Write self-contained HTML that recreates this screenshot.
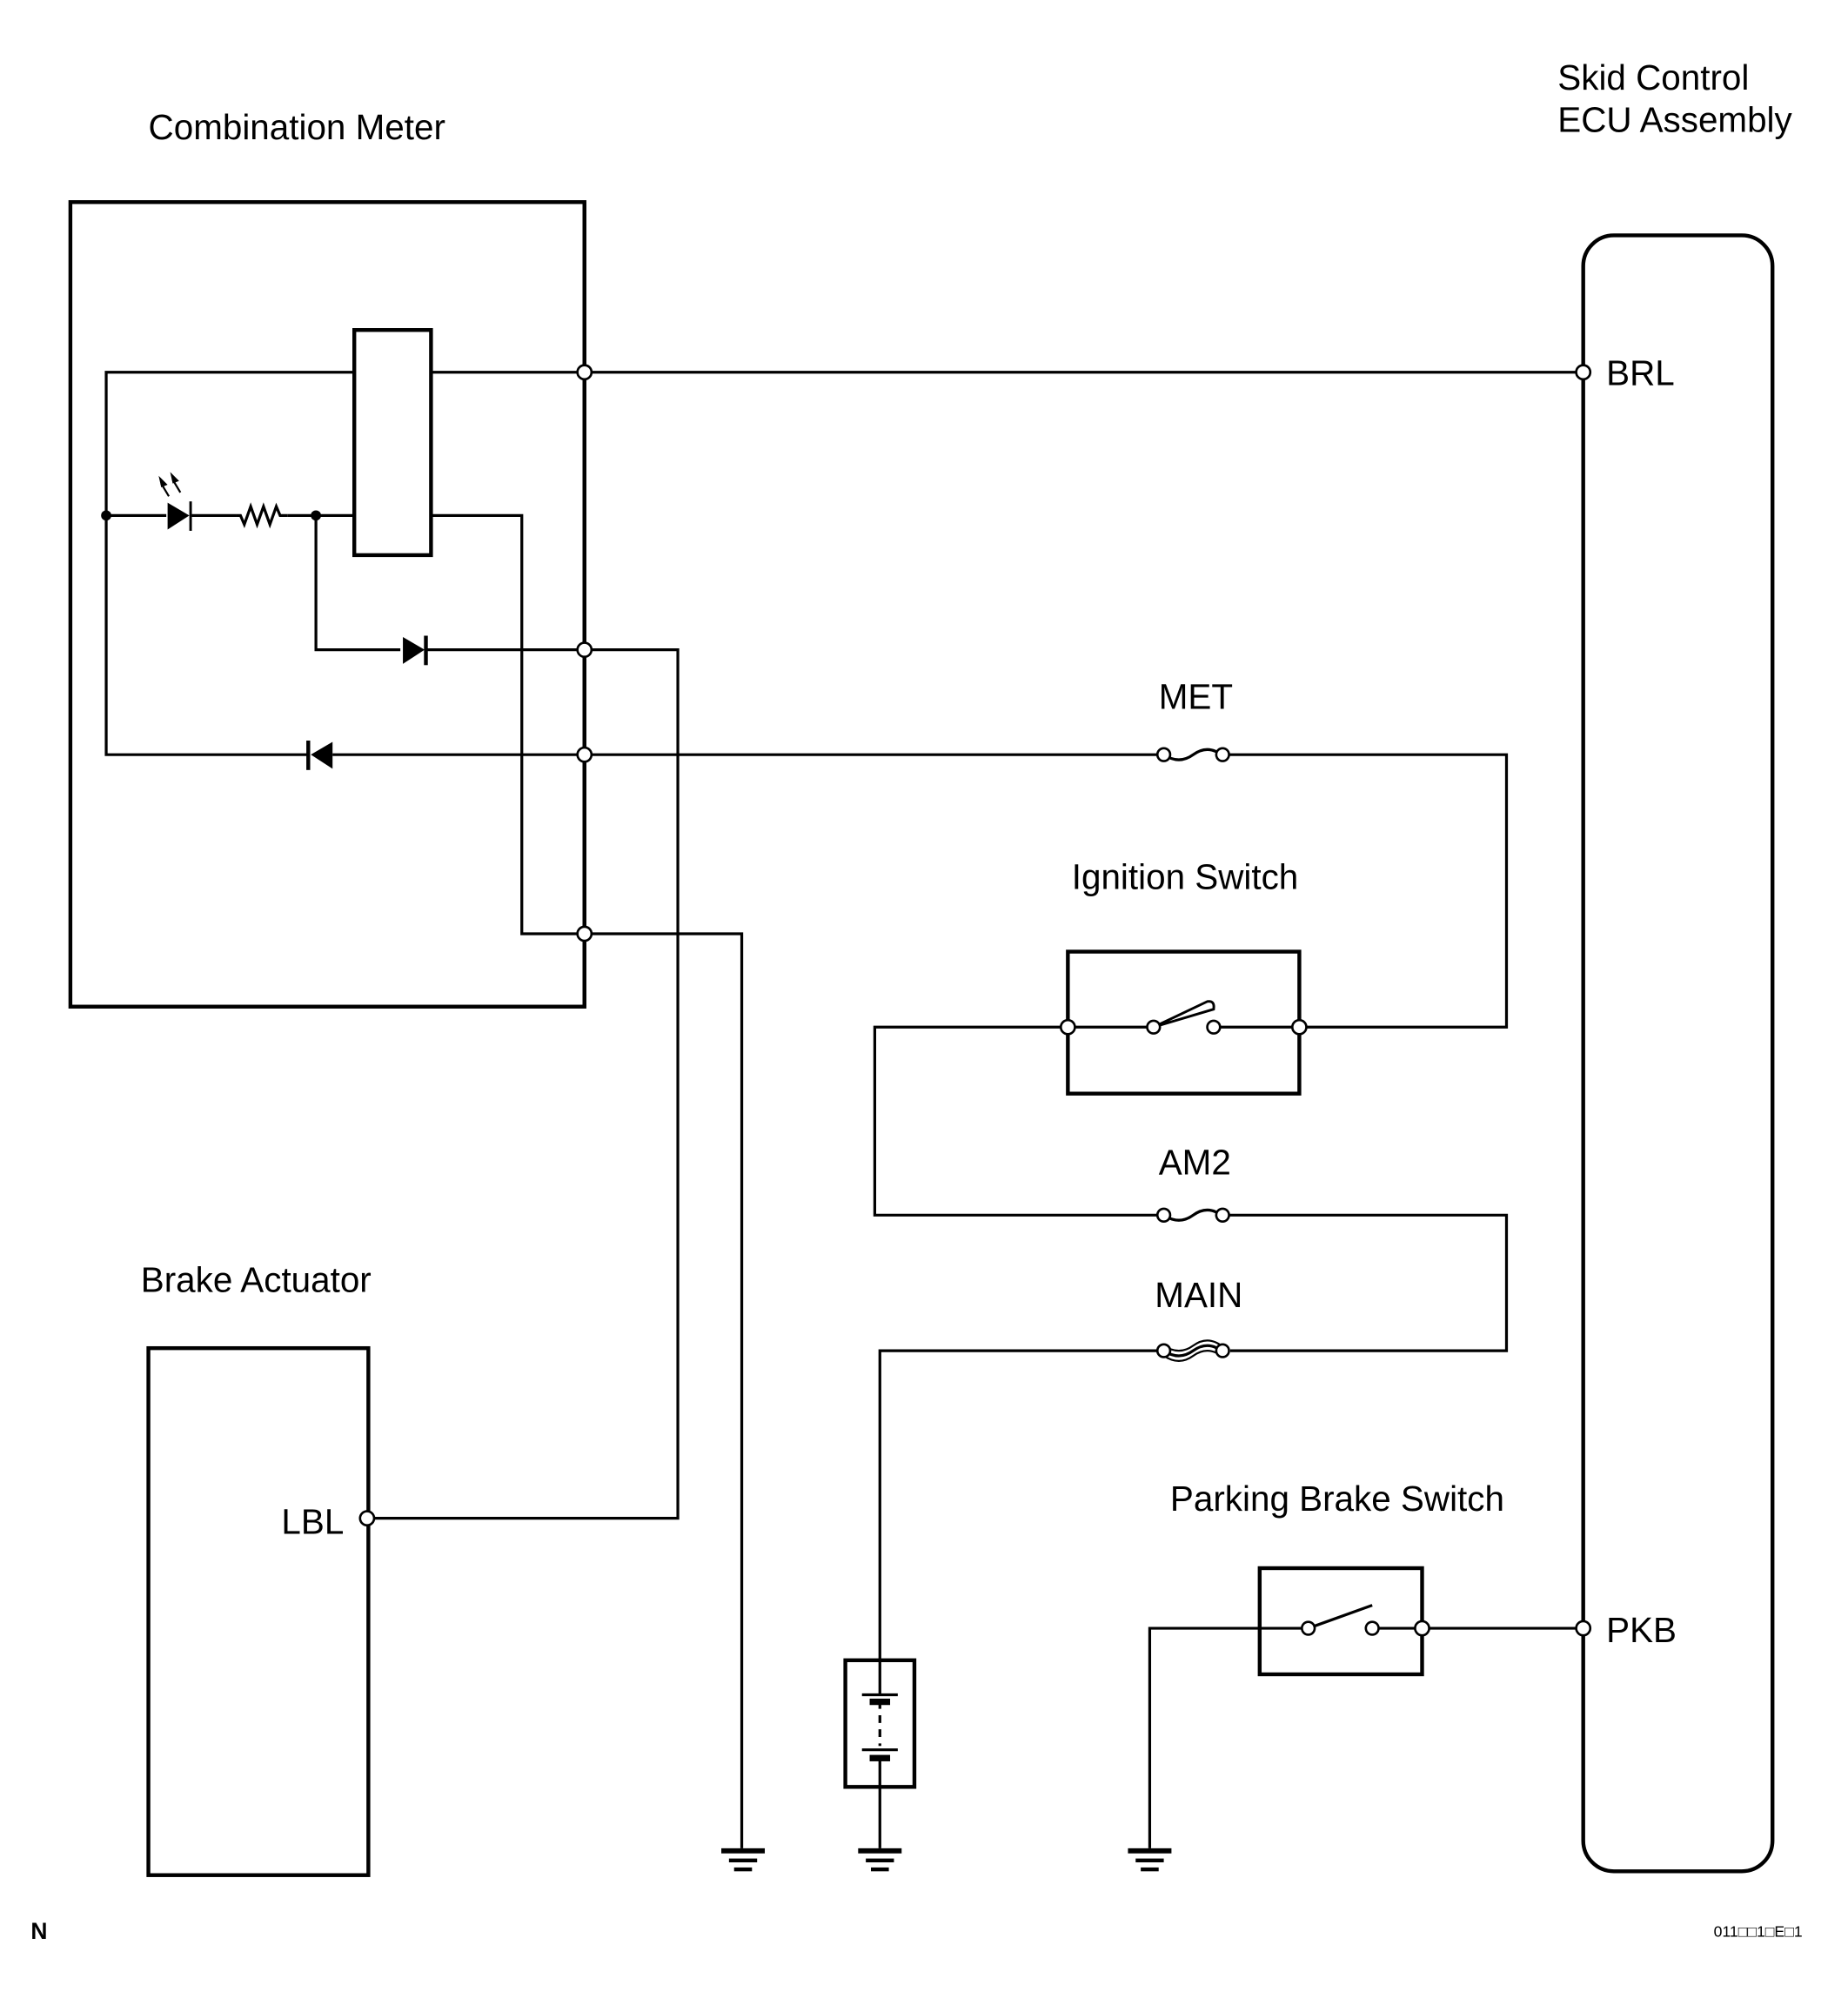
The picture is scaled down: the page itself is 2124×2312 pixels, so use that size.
<!DOCTYPE html>
<html><head><meta charset="utf-8"><style>
html,body{margin:0;padding:0;background:#fff;}
svg{display:block;}
text{font-family:"Liberation Sans",Arial,sans-serif;font-size:27.5px;fill:#000;}
</style></head><body>
<svg width="2124" height="2312" viewBox="0 0 1445 1573" xmlns="http://www.w3.org/2000/svg">
<g fill="none" stroke="#000" stroke-width="2.2">
<rect x="55" y="158" width="402" height="629" stroke-width="3"/>
<rect x="277" y="258" width="60" height="176" stroke-width="3"/>
<rect x="1238" y="184" width="148" height="1279" rx="24" stroke-width="3"/>
<rect x="116" y="1054" width="172" height="412" stroke-width="3"/>
<rect x="835" y="744" width="181" height="111" stroke-width="3"/>
<rect x="985" y="1226" width="127" height="83" stroke-width="3"/>
<rect x="661" y="1298" width="54" height="99" stroke-width="3"/>

<polyline points="277,291 83,291 83,590 240,590"/>
<line x1="260" y1="590" x2="905" y2="590"/>
<polyline points="960,590 1178,590 1178,803 1016,803"/>
<line x1="337" y1="291" x2="1238" y2="291"/>
<line x1="83" y1="403" x2="130" y2="403"/>
<line x1="150" y1="403" x2="185" y2="403"/>
<polyline points="185,403 188,403 191,410 196,396 201,410 206,396 211,410 216,396 219,403 225,403"/>
<line x1="225" y1="403" x2="277" y2="403"/>
<polyline points="337,403 408,403 408,730 580,730 580,1445"/>
<polyline points="247,403 247,508 313,508"/>
<polyline points="333,508 530,508 530,1187 287,1187"/>
<line x1="457" y1="158" x2="457" y2="787" stroke-width="3"/>
<line x1="835" y1="803" x2="902" y2="803"/>
<line x1="949" y1="803" x2="1016" y2="803"/>
<polyline points="835,803 684,803 684,950 905,950"/>
<polyline points="960,950 1178,950 1178,1056 962,1056"/>
<polyline points="905,1056 688,1056 688,1298"/>
<line x1="688" y1="1397" x2="688" y2="1445"/>
<polyline points="1023,1273 899,1273 899,1445"/>
<line x1="1073" y1="1273" x2="1238" y2="1273"/>
<path d="M902,803 L944,783 Q950,782 949,789 Z" stroke-width="2"/>
<line x1="1023" y1="1273" x2="1073" y2="1255"/>
<path d="M910,590 Q922,598 933,590 Q944,582 955,590"/>
<path d="M910,950 Q922,958 933,950 Q944,942 955,950"/>
<path d="M910,1056 Q922,1064 933,1056 Q944,1048 955,1056" />
<path d="M910,1060 Q922,1068 933,1060 Q944,1052 955,1060" stroke-width="1.5"/>
<path d="M910,1052 Q922,1060 933,1052 Q944,1044 955,1052" stroke-width="1.5"/>
<line x1="688" y1="1298" x2="688" y2="1325"/>
<line x1="674" y1="1325" x2="702" y2="1325"/>
<line x1="688" y1="1330" x2="688" y2="1365" stroke-dasharray="6,5"/>
<line x1="674" y1="1368" x2="702" y2="1368"/>
<line x1="688" y1="1373" x2="688" y2="1397"/>
</g>
<g fill="#000" stroke="#000">
<rect x="680" y="1328" width="16" height="5" stroke="none"/>
<rect x="680" y="1372" width="16" height="5" stroke="none"/>
<g stroke="none">
<rect x="564" y="1445" width="34" height="4"/><rect x="570" y="1453" width="22" height="3"/><rect x="574" y="1460" width="14" height="3"/>
<rect x="671" y="1445" width="34" height="4"/><rect x="677" y="1453" width="22" height="3"/><rect x="681" y="1460" width="14" height="3"/>
<rect x="882" y="1445" width="34" height="4"/><rect x="888" y="1453" width="22" height="3"/><rect x="892" y="1460" width="14" height="3"/>
</g>
<polygon points="131,393 131,414 148,403" stroke="none"/>
<line x1="149" y1="392" x2="149" y2="415" stroke-width="2"/>
<polygon points="315,498 315,519 332,508" stroke="none"/>
<line x1="333" y1="497" x2="333" y2="520" stroke-width="3"/>
<polygon points="260,580 260,601 243,590" stroke="none"/>
<line x1="241" y1="579" x2="241" y2="602" stroke-width="3"/>
<line x1="132" y1="388" x2="126" y2="378" stroke-width="1.5"/><polygon points="124,372 131,379 126,381" stroke="none"/>
<line x1="141" y1="385" x2="135" y2="375" stroke-width="1.5"/><polygon points="133,369 140,376 135,378" stroke="none"/>
<circle cx="83" cy="403" r="4" stroke="none"/>
<circle cx="247" cy="403" r="4" stroke="none"/>
</g>
<g fill="#fff" stroke="#000" stroke-width="1.8">
<circle cx="457" cy="291" r="5.5"/><circle cx="457" cy="508" r="5.5"/><circle cx="457" cy="590" r="5.5"/><circle cx="457" cy="730" r="5.5"/>
<circle cx="1238" cy="291" r="5.5"/><circle cx="1238" cy="1273" r="5.5"/>
<circle cx="287" cy="1187" r="5.5"/>
<circle cx="835" cy="803" r="5.5"/><circle cx="1016" cy="803" r="5.5"/><circle cx="902" cy="803" r="5"/><circle cx="949" cy="803" r="5"/>
<circle cx="1112" cy="1273" r="5.5"/><circle cx="1023" cy="1273" r="5"/><circle cx="1073" cy="1273" r="5"/>
<circle cx="910" cy="590" r="5"/><circle cx="956" cy="590" r="5"/>
<circle cx="910" cy="950" r="5"/><circle cx="956" cy="950" r="5"/>
<circle cx="910" cy="1056" r="5"/><circle cx="956" cy="1056" r="5"/>
</g>
<text x="116" y="109">Combination Meter</text>
<text x="1218" y="70">Skid Control</text>
<text x="1218" y="103">ECU Assembly</text>
<text x="1256" y="301">BRL</text>
<text x="1256" y="1284">PKB</text>
<text x="906" y="554">MET</text>
<text x="838" y="695">Ignition Switch</text>
<text x="906" y="918">AM2</text>
<text x="903" y="1022">MAIN</text>
<text x="915" y="1181">Parking Brake Switch</text>
<text x="110" y="1010">Brake Actuator</text>
<text x="220" y="1199">LBL</text>
<text x="24" y="1516" style="font-size:18px;font-weight:bold">N</text>
<text x="1340" y="1514" style="font-size:12px">011□□1□E□1</text>
</svg>
</body></html>
